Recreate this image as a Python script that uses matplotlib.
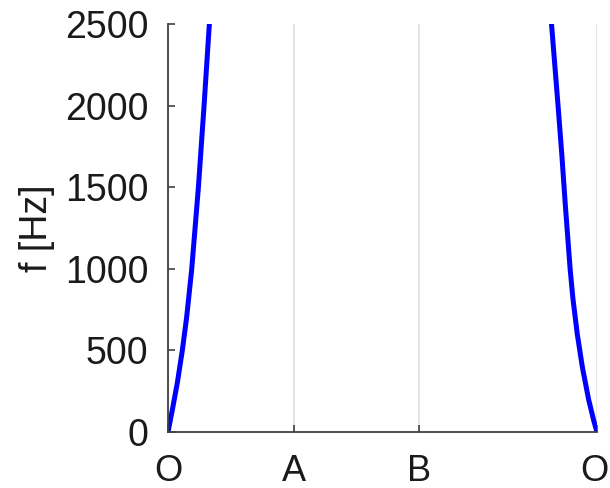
import numpy as np
import matplotlib.pyplot as plt
from matplotlib.transforms import ScaledTranslation

plt.rcParams['font.family'] = ['Liberation Sans', 'DejaVu Sans']

# path through the zone: O -> A -> B -> O (last segment is the diagonal)
path_labels = ["O", "A", "B", "O"]
path_ticks = [0.0, 1.0, 2.0, 2.0 + np.sqrt(2)]

# lowest branch leaving O towards A (path coordinate, frequency in Hz)
k_left = [0.0, 0.013, 0.038, 0.074, 0.114, 0.148, 0.189, 0.242, 0.287, 0.329]
f_left = [0, 50, 150, 300, 500, 700, 1000, 1500, 2000, 2500]

# lowest branch coming back into O along B -> O (distance from O, frequency in Hz)
d_right = [0.0, 0.026, 0.067, 0.117, 0.157, 0.192, 0.214, 0.253, 0.280, 0.310, 0.362]
f_right = [0, 70, 200, 400, 600, 820, 1000, 1400, 1700, 2000, 2500]

y_ticks = [0, 500, 1000, 1500, 2000, 2500]

fig = plt.figure(figsize=(6.10, 4.88), dpi=100)
ax = fig.add_axes([168 / 610, 1 - 432 / 488, 429 / 610, 408 / 488])

ax.plot(k_left, f_left, color="#0000ff", lw=3.6, solid_capstyle="round",
        solid_joinstyle="round")
ax.plot(path_ticks[-1] - np.array(d_right), f_right, color="#0000ff", lw=3.6,
        solid_capstyle="round", solid_joinstyle="round")

ax.set_xlim(path_ticks[0], path_ticks[-1])
ax.set_ylim(0, 2500)
ax.set_xticks(path_ticks)
ax.set_xticklabels(path_labels)
ax.set_yticks(y_ticks)

ax.xaxis.grid(True, color="#e2e2e2", lw=1.3)
ax.set_axisbelow(True)

for side in ("top", "right"):
    ax.spines[side].set_visible(False)
for side in ("left", "bottom"):
    ax.spines[side].set_color("#404040")
    ax.spines[side].set_linewidth(1.3)

ax.tick_params(direction="in", length=5, width=1.2, color="#404040",
               labelcolor="#1a1a1a")
ax.tick_params(axis="x", pad=16, labelsize=26)
ax.tick_params(axis="y", pad=14, labelsize=27)

# keep the closing O inside the figure edge
last = ax.get_xticklabels()[-1]
last.set_transform(last.get_transform() + ScaledTranslation(-3 / 100, 0, fig.dpi_scale_trans))

ax.set_ylabel("f [Hz]", fontsize=27, color="#1a1a1a")
ax.yaxis.set_label_coords(-0.263, 0.5)

fig.savefig("out.png", dpi=100)
